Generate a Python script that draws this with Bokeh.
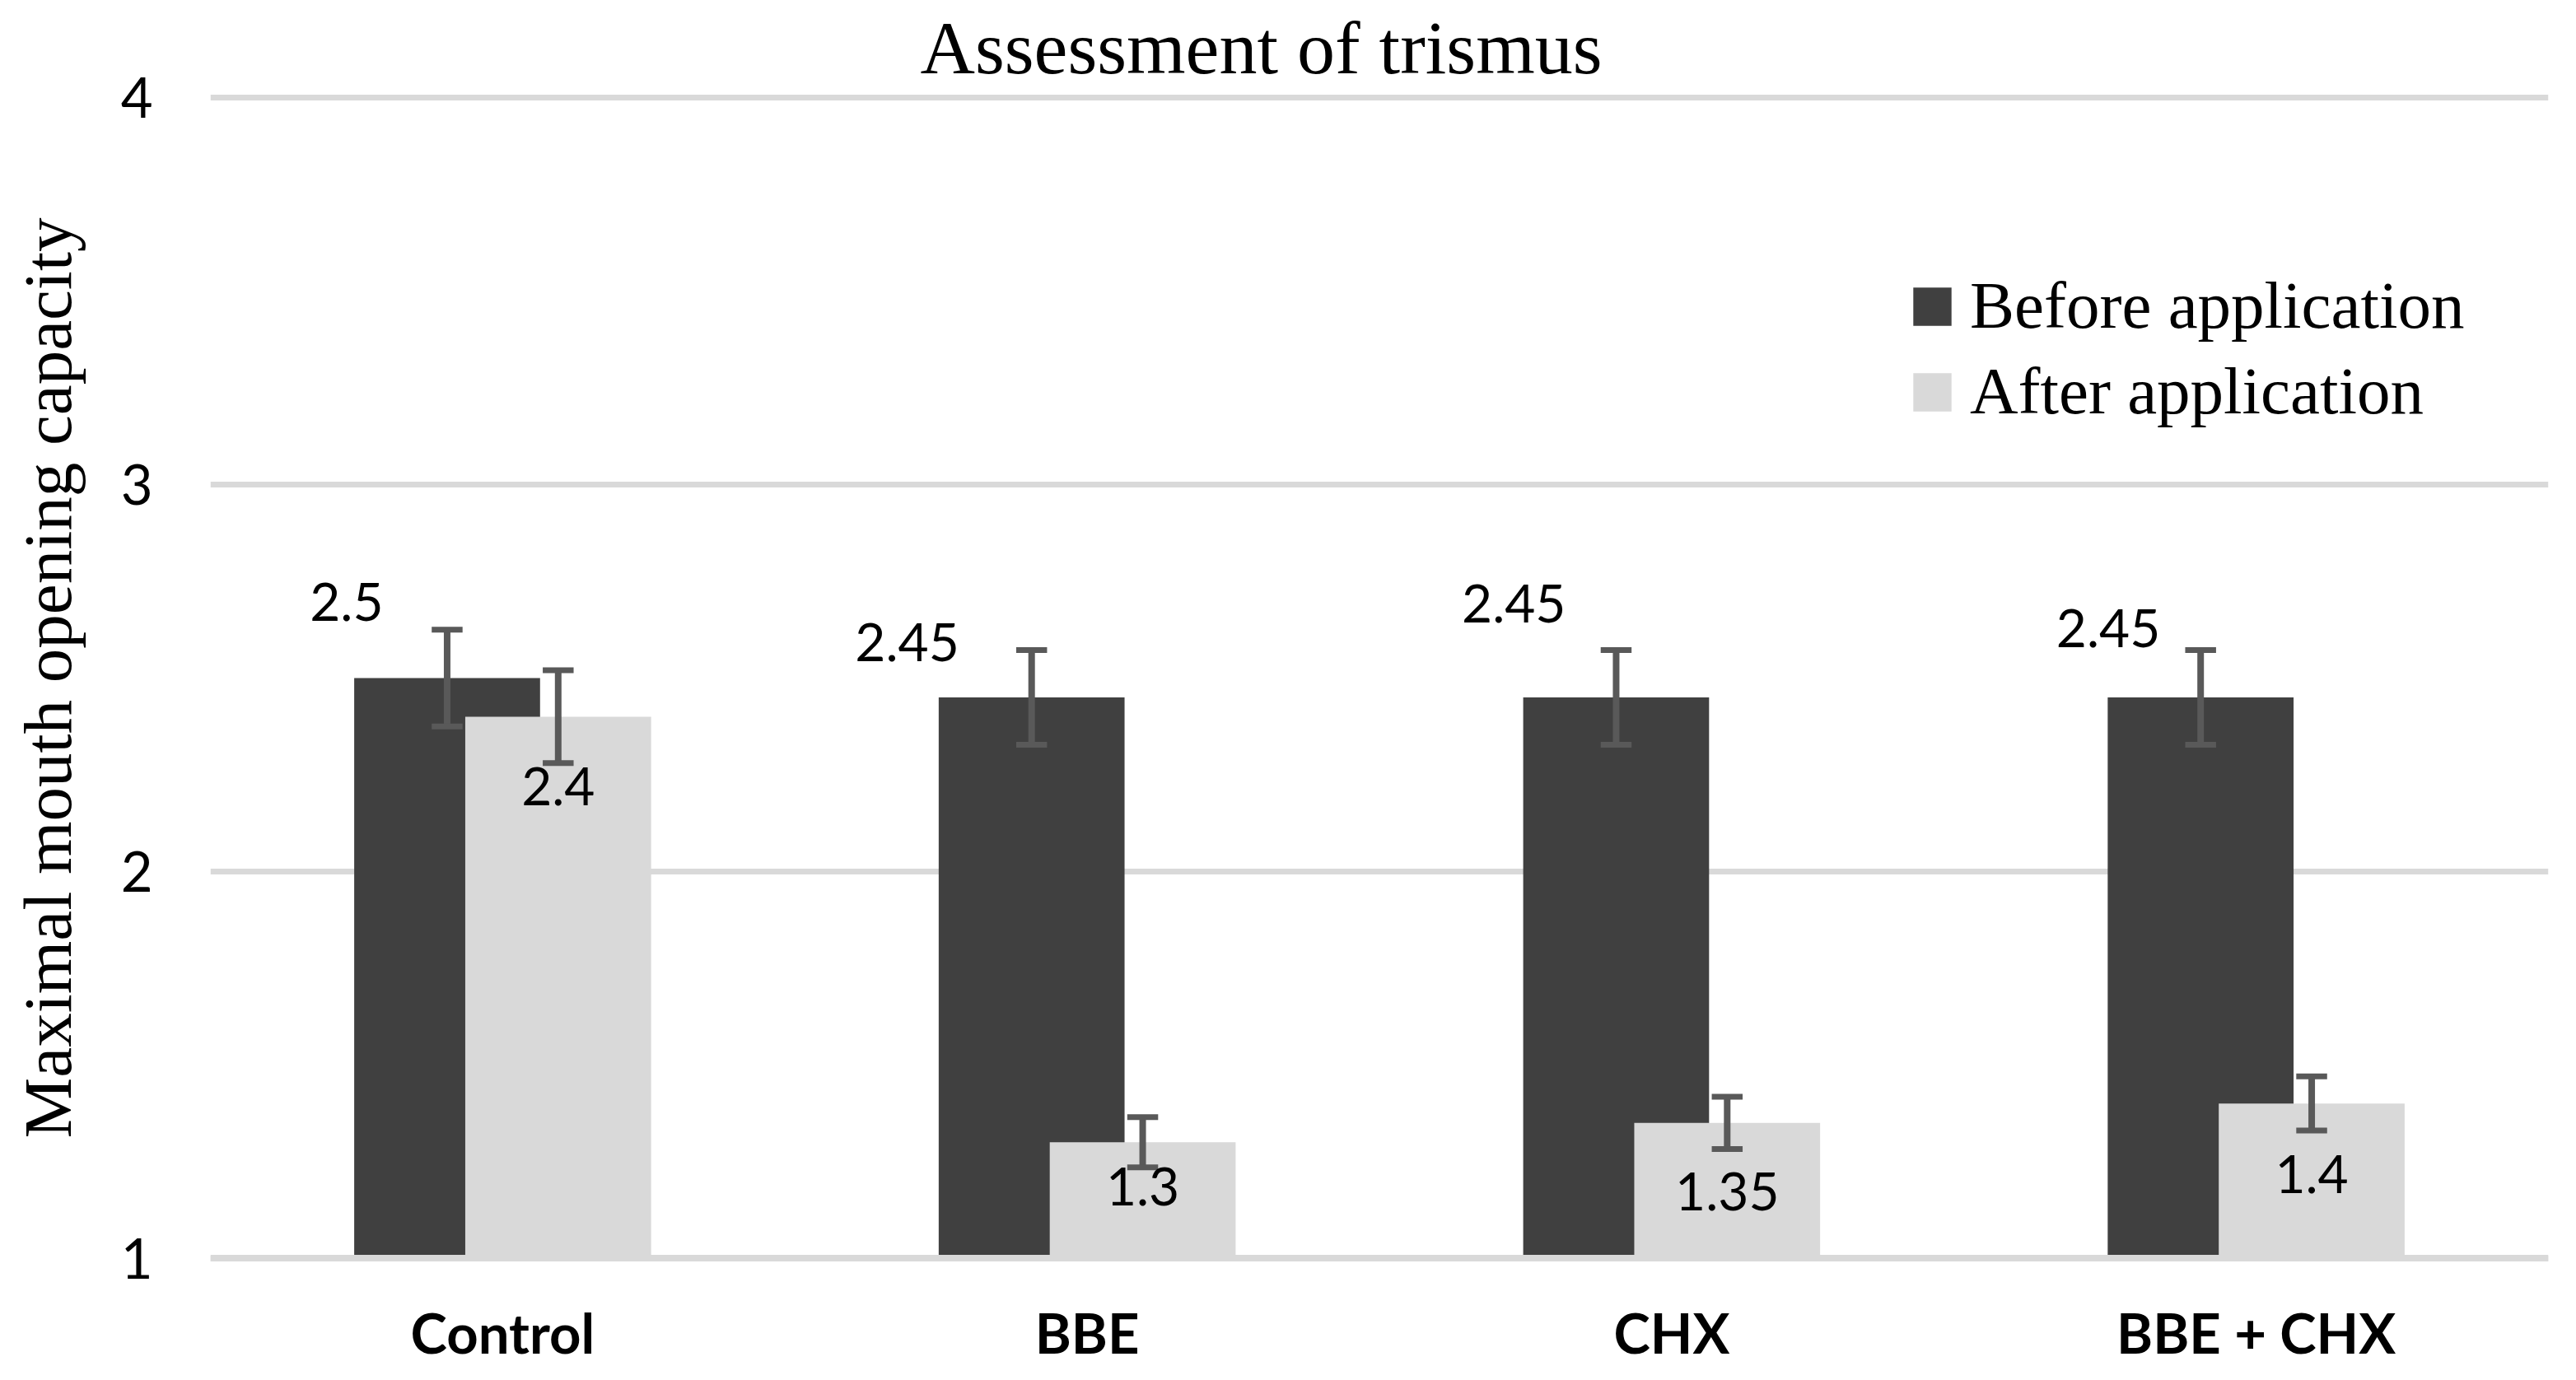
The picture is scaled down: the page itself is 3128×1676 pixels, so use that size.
import math
from bokeh.plotting import figure
from bokeh.models import (Range1d, FixedTicker, ColumnDataSource, Legend, LegendItem, Span)
from bokeh.core.properties import value
from bokeh.embed import file_html
from bokeh.resources import INLINE

# ---------------- data ----------------
categories = ["Control", "BBE", "CHX", "BBE + CHX"]
before = [2.5, 2.45, 2.45, 2.45]
after = [2.4, 1.3, 1.35, 1.4]
before_err = [0.125, 0.1225, 0.1225, 0.1225]
after_err = [0.12, 0.065, 0.0675, 0.07]
before_text = ["2.5", "2.45", "2.45", "2.45"]
after_text = ["2.4", "1.3", "1.35", "1.4"]
y_ticks = [1, 2, 3, 4]

# ---------------- style / label nudges ----------------
DARK = "#404040"
LIGHT = "#d9d9d9"
ERR = "#595959"
GRID = "#d9d9d9"
SERIF = "Liberation Serif"
SANS = "Lato"
BAR_W = 0.318
DODGE = 0.095
CAP_HALF = 0.0264
before_lab_dx = [-0.267, -0.308, -0.270, -0.253]
before_lab_dy = [0.197, 0.143, 0.243, 0.179]
after_lab_dy = [-0.181, -0.115, -0.178, -0.182]

n = len(categories)
centers = [i + 0.5 for i in range(n)]
xb = [c - DODGE for c in centers]
xa = [c + DODGE for c in centers]

src_b = ColumnDataSource(dict(x=xb, top=before, cat=categories))
src_a = ColumnDataSource(dict(x=xa, top=after, cat=categories))

W, H = 3112, 1660
p = figure(width=W, height=H, output_backend="svg", toolbar_location=None,
           x_range=Range1d(0, n), y_range=Range1d(0.98, 4.02),
           min_border_left=255, min_border_right=18,
           min_border_top=109, min_border_bottom=120,
           title="Assessment of trismus")
p.outline_line_color = None
p.background_fill_color = "white"
p.border_fill_color = "white"

p.title.text_font = SERIF
p.title.text_font_size = "92px"
p.title.text_font_style = "normal"
p.title.text_color = "black"
p.title.align = "left"
p.title.offset = 862
p.title.standoff = 2

rb = p.vbar(x="x", top="top", bottom=1, width=BAR_W, source=src_b,
            fill_color=DARK, line_color=None)
ra = p.vbar(x="x", top="top", bottom=1, width=BAR_W, source=src_a,
            fill_color=LIGHT, line_color=None)

# error bars
def add_err(xs, vals, errs):
    lo = [v - e for v, e in zip(vals, errs)]
    hi = [v + e for v, e in zip(vals, errs)]
    p.segment(x0=xs, y0=lo, x1=xs, y1=hi, line_color=ERR, line_width=8)
    p.segment(x0=[x - CAP_HALF for x in xs], y0=hi, x1=[x + CAP_HALF for x in xs], y1=hi,
              line_color=ERR, line_width=7)
    p.segment(x0=[x - CAP_HALF for x in xs], y0=lo, x1=[x + CAP_HALF for x in xs], y1=lo,
              line_color=ERR, line_width=7)

add_err(xb, before, before_err)
add_err(xa, after, after_err)

# data labels
src_lb = ColumnDataSource(dict(
    x=[c + d for c, d in zip(centers, before_lab_dx)],
    y=[v + d for v, d in zip(before, before_lab_dy)],
    t=before_text))
src_la = ColumnDataSource(dict(
    x=xa, y=[v + d for v, d in zip(after, after_lab_dy)], t=after_text))
for s in (src_lb, src_la):
    p.text(x="x", y="y", text="t", source=s, text_font=value(SANS),
           text_font_size="64px", text_color="black", text_align="center",
           text_baseline="middle")

# baseline line over the bars
p.add_layout(Span(location=1, dimension="width", line_color=GRID, line_width=8))

# axes
p.xaxis.ticker = FixedTicker(ticks=centers)
p.xaxis.major_label_overrides = {c: lab for c, lab in zip(centers, categories)}
p.xaxis.major_label_text_font = SANS
p.xaxis.major_label_text_font_style = "bold"
p.xaxis.major_label_text_font_size = "67px"
p.xaxis.major_label_text_color = "black"
p.xaxis.major_label_standoff = 40
p.xaxis.axis_line_color = None
p.xaxis.major_tick_line_color = None
p.xaxis.minor_tick_line_color = None
p.xaxis.major_tick_out = 0
p.xaxis.major_tick_in = 0

p.yaxis.ticker = FixedTicker(ticks=y_ticks)
p.yaxis.major_label_text_font = SANS
p.yaxis.major_label_text_font_size = "67px"
p.yaxis.major_label_text_color = "black"
p.yaxis.major_label_standoff = 70
p.yaxis.axis_line_color = None
p.yaxis.major_tick_line_color = None
p.yaxis.minor_tick_line_color = None
p.yaxis.major_tick_out = 0
p.yaxis.major_tick_in = 0
p.yaxis.axis_label = "Maximal mouth opening capacity"
p.yaxis.axis_label_text_font = SERIF
p.yaxis.axis_label_text_font_style = "normal"
p.yaxis.axis_label_text_font_size = "83px"
p.yaxis.axis_label_text_color = "black"
p.yaxis.axis_label_standoff = 40

p.xgrid.grid_line_color = None
p.ygrid.grid_line_color = GRID
p.ygrid.grid_line_width = 7

legend = Legend(items=[LegendItem(label="Before application", renderers=[rb]),
                       LegendItem(label="After application", renderers=[ra])],
                location=(2062, 1015), glyph_width=58, glyph_height=58,
                label_standoff=17, label_text_font=SERIF, label_text_font_size="81px",
                label_text_color="black", spacing=11, padding=0, margin=0,
                border_line_color=None, background_fill_alpha=0)
p.add_layout(legend)

open("out.html", "w").write(file_html(p, INLINE))
